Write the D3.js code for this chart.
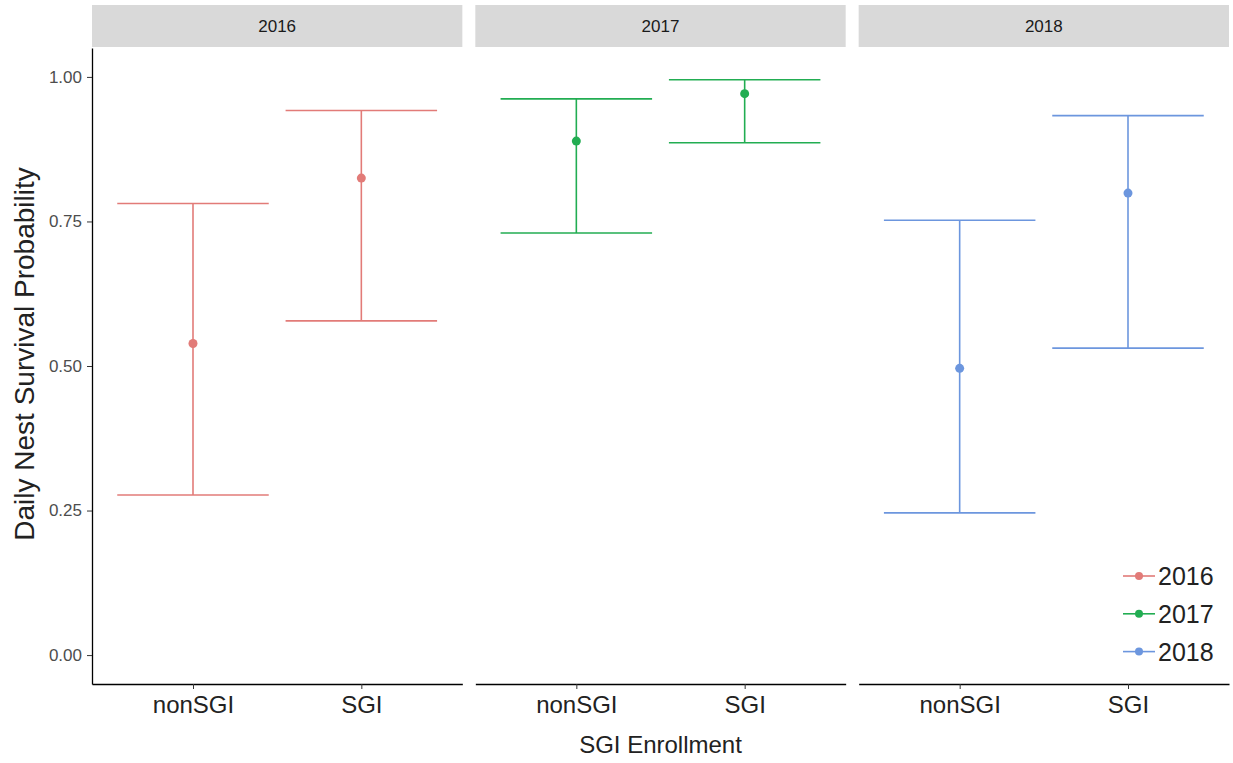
<!DOCTYPE html>
<html>
<head>
<meta charset="utf-8">
<script src="https://cdn.jsdelivr.net/npm/d3@7"></script>
<style>
  html, body { margin: 0; padding: 0; background: #fff; }
  svg { display: block; font-family: Arial, "Liberation Sans", sans-serif; }
</style>
</head>
<body>
<svg id="chart" width="1233" height="763"></svg>
<script>
// Daily nest survival estimates with confidence limits, by year and SGI enrollment
const years = ["2016", "2017", "2018"];
const groups = ["nonSGI", "SGI"];
const yearColors = ["#E27B78", "#22AD52", "#6C96DE"];

const estimate2016 = [0.539, 0.825];
const lower2016    = [0.277, 0.578];
const upper2016    = [0.781, 0.942];

const estimate2017 = [0.889, 0.971];
const lower2017    = [0.730, 0.886];
const upper2017    = [0.962, 0.995];

const estimate2018 = [0.496, 0.799];
const lower2018    = [0.246, 0.531];
const upper2018    = [0.752, 0.933];

const yTicks = [0, 0.25, 0.5, 0.75, 1.0];

const estimates = [estimate2016, estimate2017, estimate2018];
const lowers = [lower2016, lower2017, lower2018];
const uppers = [upper2016, upper2017, upper2018];

const rows = [];
years.forEach((yr, i) => {
  groups.forEach((g, j) => {
    rows.push({ year: yr, group: g, est: estimates[i][j], lo: lowers[i][j], hi: uppers[i][j] });
  });
});

const svg = d3.select("#chart");

// facet geometry
const plotLeft = 92, plotRight = 1229;
const panelGap = 13;
const panelW = (plotRight - plotLeft - 2 * panelGap) / 3;
const panelTop = 48, panelBottom = 684;
const stripTop = 5, stripH = 42;

const y = d3.scaleLinear().domain([-0.05, 1.05]).range([panelBottom, panelTop]);
const x = d3.scalePoint().domain(groups).range([0, panelW]).padding(0.6);
const capHalf = 0.45 * x.step();
const color = d3.scaleOrdinal().domain(years).range(yearColors);

years.forEach((yr, i) => {
  const px = plotLeft + i * (panelW + panelGap);
  const panel = svg.append("g").attr("transform", `translate(${px},0)`);

  // strip
  panel.append("rect")
    .attr("x", 0).attr("y", stripTop)
    .attr("width", panelW).attr("height", stripH)
    .attr("fill", "#d9d9d9");
  panel.append("text")
    .attr("x", panelW / 2).attr("y", stripTop + stripH / 2)
    .attr("dy", "0.36em")
    .attr("text-anchor", "middle")
    .attr("font-size", 17)
    .attr("fill", "#1a1a1a")
    .text(yr);

  // x axis
  const xAxis = d3.axisBottom(x).tickSizeInner(5).tickSizeOuter(0).tickPadding(7);
  const gx = panel.append("g")
    .attr("transform", `translate(0,${panelBottom})`)
    .call(xAxis);
  gx.select(".domain").attr("stroke", "#000").attr("stroke-width", 1.3);
  gx.selectAll(".tick line").attr("stroke", "#333");
  gx.selectAll(".tick text").attr("font-size", 24).attr("fill", "#222")
    .attr("font-family", "Arial, 'Liberation Sans', sans-serif");

  if (i === 0) {
    const yAxis = d3.axisLeft(y).tickValues(yTicks).tickFormat(d3.format(".2f"))
      .tickSizeInner(5).tickSizeOuter(0).tickPadding(5);
    const gy = panel.append("g").call(yAxis);
    gy.select(".domain").attr("stroke", "#000").attr("stroke-width", 1.3);
    gy.selectAll(".tick line").attr("stroke", "#333");
    gy.selectAll(".tick text").attr("font-size", 17).attr("fill", "#4d4d4d")
      .attr("font-family", "Arial, 'Liberation Sans', sans-serif");
  }

  const data = rows.filter(r => r.year === yr);
  const bars = panel.append("g").attr("fill", "none")
    .attr("stroke", color(yr)).attr("stroke-width", 1.6);
  bars.selectAll("line.v").data(data).join("line")
    .attr("class", "v")
    .attr("x1", d => x(d.group)).attr("x2", d => x(d.group))
    .attr("y1", d => y(d.lo)).attr("y2", d => y(d.hi));
  bars.selectAll("line.hi").data(data).join("line")
    .attr("class", "hi")
    .attr("x1", d => x(d.group) - capHalf).attr("x2", d => x(d.group) + capHalf)
    .attr("y1", d => y(d.hi)).attr("y2", d => y(d.hi));
  bars.selectAll("line.lo").data(data).join("line")
    .attr("class", "lo")
    .attr("x1", d => x(d.group) - capHalf).attr("x2", d => x(d.group) + capHalf)
    .attr("y1", d => y(d.lo)).attr("y2", d => y(d.lo));
  panel.append("g").selectAll("circle").data(data).join("circle")
    .attr("cx", d => x(d.group)).attr("cy", d => y(d.est))
    .attr("r", 4.5).attr("fill", color(yr));
});

// axis titles
svg.append("text")
  .attr("x", (plotLeft + plotRight) / 2).attr("y", 753)
  .attr("text-anchor", "middle")
  .attr("font-size", 24).attr("fill", "#222")
  .text("SGI Enrollment");
svg.append("text")
  .attr("transform", `translate(34,354) rotate(-90)`)
  .attr("text-anchor", "middle")
  .attr("font-size", 28).attr("fill", "#222")
  .text("Daily Nest Survival Probability");

// legend inside the last panel
const legend = svg.append("g").attr("transform", "translate(1123,576)");
years.forEach((yr, i) => {
  const row = legend.append("g").attr("transform", `translate(0,${i * 37.8})`);
  row.append("line").attr("x1", 0).attr("x2", 32).attr("y1", 0).attr("y2", 0)
    .attr("stroke", color(yr)).attr("stroke-width", 1.6);
  row.append("circle").attr("cx", 16).attr("cy", 0).attr("r", 4).attr("fill", color(yr));
  row.append("text").attr("x", 35).attr("y", 0).attr("dy", "0.36em")
    .attr("font-size", 25).attr("fill", "#222").text(yr);
});
</script>
</body>
</html>
